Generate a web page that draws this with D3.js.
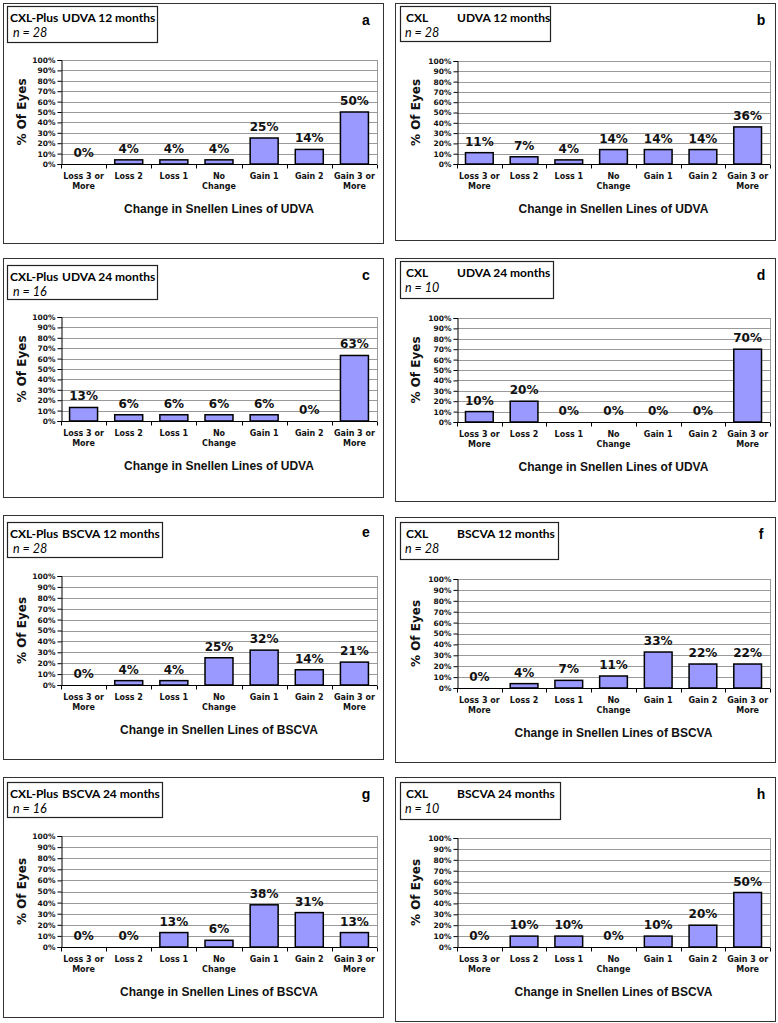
<!DOCTYPE html>
<html><head><meta charset="utf-8">
<script src="https://cdn.jsdelivr.net/npm/d3@7"></script>
<style>
html,body{margin:0;padding:0;background:#fff;}
svg{display:block;}
</style>
</head><body>
<svg id="chart" width="778" height="1023"></svg>
<script>
// ---------- data ----------
const categories = ["Loss 3 or\nMore", "Loss 2", "Loss 1", "No\nChange", "Gain 1", "Gain 2", "Gain 3 or\nMore"];
const yTicks = [0, 10, 20, 30, 40, 50, 60, 70, 80, 90, 100];

const valuesA = [0, 4, 4, 4, 25, 14, 50];
const valuesB = [11, 7, 4, 14, 14, 14, 36];
const valuesC = [13, 6, 6, 6, 6, 0, 63];
const valuesD = [10, 20, 0, 0, 0, 0, 70];
const valuesE = [0, 4, 4, 25, 32, 14, 21];
const valuesF = [0, 4, 7, 11, 33, 22, 22];
const valuesG = [0, 0, 13, 6, 38, 31, 13];
const valuesH = [0, 10, 10, 0, 10, 20, 50];

const groupNames = ["CXL-Plus", "CXL", "CXL-Plus", "CXL", "CXL-Plus", "CXL", "CXL-Plus", "CXL"];
const measureNames = ["UDVA 12 months", "UDVA 12 months", "UDVA 24 months", "UDVA 24 months",
                      "BSCVA 12 months", "BSCVA 12 months", "BSCVA 24 months", "BSCVA 24 months"];
const sampleSizes = ["n = 28", "n = 28", "n = 16", "n = 10", "n = 28", "n = 28", "n = 16", "n = 10"];
const panelLetters = ["a", "b", "c", "d", "e", "f", "g", "h"];
const xTitles = ["Change in Snellen Lines of UDVA", "Change in Snellen Lines of UDVA",
                 "Change in Snellen Lines of UDVA", "Change in Snellen Lines of UDVA",
                 "Change in Snellen Lines of BSCVA", "Change in Snellen Lines of BSCVA",
                 "Change in Snellen Lines of BSCVA", "Change in Snellen Lines of BSCVA"];
const allValues = [valuesA, valuesB, valuesC, valuesD, valuesE, valuesF, valuesG, valuesH];

// ---------- layout (pixel geometry, not data) ----------
const cols = [
  {bx: 3, bw: 380, pl: 61, pr: 377, boxL: 7, letterX: 366, yTitleX: 22, nameDx: 3, measDx: 55, nDx: 6},
  {bx: 395, bw: 380, pl: 457, pr: 770, boxL: 400, letterX: 761, yTitleX: 416, nameDx: 6, measDx: 57, nDx: 5}
];
// top, bottom, plotTop, plotBottom, boxTop, boxBottom, boxRight
const rows = [
  [3, 243, 60, 164, 6, 42, 157],
  [3, 240, 61, 164, 6, 41, 550],
  [258, 497, 317, 421, 265, 299, 157],
  [258, 501, 318, 422, 261, 298, 553],
  [515, 759, 576, 685, 522, 557, 162],
  [517, 762, 579, 688, 522, 559, 558],
  [777, 1017, 836, 947, 782, 817, 162],
  [777, 1021, 838, 947, 782, 819, 560]
];

const svg = d3.select("#chart");
const barColor = "#9999ff";
const gridColor = "#9a9a9a";
const fmt = d => d + "%";

allValues.forEach((vals, i) => {
  const c = cols[i % 2];
  const [top, bottom, pTop, pBot, boxTop, boxBot, boxR] = rows[i];
  const g = svg.append("g");

  // outer border
  g.append("rect").attr("x", c.bx + 0.5).attr("y", top + 0.5)
    .attr("width", c.bw).attr("height", bottom - top)
    .attr("fill", "#fff").attr("stroke", "#333").attr("stroke-width", 1);

  // title box
  g.append("rect").attr("x", c.boxL + 0.5).attr("y", boxTop + 0.5)
    .attr("width", boxR - c.boxL).attr("height", boxBot - boxTop)
    .attr("fill", "#fff").attr("stroke", "#222").attr("stroke-width", 1.2);
  g.append("text").attr("x", c.boxL + c.nameDx).attr("y", boxTop + 16)
    .attr("font-family", "Lato").attr("font-weight", "bold").attr("font-size", 12)
    .text(groupNames[i]);
  g.append("text").attr("x", c.boxL + c.measDx).attr("y", boxTop + 16)
    .attr("font-family", "Lato").attr("font-weight", "bold").attr("font-size", 12)
    .text(measureNames[i]);
  g.append("text").attr("x", c.boxL + c.nDx).attr("y", boxTop + 31)
    .attr("font-family", "Lato").attr("font-style", "italic").attr("font-size", 12.5)
    .text(sampleSizes[i]);

  // panel letter
  g.append("text").attr("x", c.letterX).attr("y", top + 22)
    .attr("text-anchor", "middle")
    .attr("font-family", "Liberation Sans").attr("font-weight", "bold").attr("font-size", 14)
    .text(panelLetters[i]);

  // scales
  const x = d3.scaleBand().domain(categories).range([c.pl, c.pr]).paddingInner(0.38).paddingOuter(0.19);
  const y = d3.scaleLinear().domain([0, 100]).range([pBot, pTop]);

  // gridlines
  g.append("g").selectAll("line").data(yTicks.filter(t => t > 0)).join("line")
    .attr("x1", c.pl).attr("x2", c.pr)
    .attr("y1", d => Math.round(y(d)) + 0.5).attr("y2", d => Math.round(y(d)) + 0.5)
    .attr("stroke", gridColor).attr("stroke-width", 1);
  // right border of plot
  g.append("line").attr("x1", c.pr + 0.5).attr("x2", c.pr + 0.5)
    .attr("y1", pTop).attr("y2", pBot).attr("stroke", gridColor);

  // bars
  g.append("g").selectAll("rect").data(vals).join("rect")
    .attr("x", (d, j) => x(categories[j]))
    .attr("y", d => y(d))
    .attr("width", x.bandwidth())
    .attr("height", d => y(0) - y(d))
    .attr("fill", barColor)
    .attr("stroke", d => d > 0 ? "#000" : "none")
    .attr("stroke-width", 1.5);

  // value labels
  g.append("g").selectAll("text").data(vals).join("text")
    .attr("x", (d, j) => x(categories[j]) + x.bandwidth() / 2)
    .attr("y", d => y(d) - 7)
    .attr("text-anchor", "middle")
    .attr("font-family", "DejaVu Sans").attr("font-weight", "bold").attr("font-size", 12)
    .attr("fill", "#111")
    .text(fmt);

  // y axis
  const yAxis = d3.axisLeft(y).tickValues(yTicks).tickFormat(fmt).tickSize(4).tickPadding(2);
  const ya = g.append("g").attr("transform", `translate(${c.pl + 0.5},0)`).call(yAxis);
  ya.select(".domain").attr("stroke", "#000");
  ya.selectAll(".tick line").attr("stroke", "#000");
  ya.selectAll(".tick text")
    .attr("font-family", "DejaVu Sans").attr("font-weight", "bold").attr("font-size", 7.5)
    .attr("fill", "#111");

  // x axis
  const xa = g.append("g").attr("transform", `translate(0,${Math.round(pBot) + 0.5})`);
  xa.append("line").attr("x1", c.pl).attr("x2", c.pr).attr("stroke", "#000");
  const bounds = d3.range(categories.length + 1).map(k => c.pl + k * x.step());
  xa.selectAll("line.tk").data(bounds).join("line").attr("class", "tk")
    .attr("x1", d => Math.round(d) + 0.5).attr("x2", d => Math.round(d) + 0.5)
    .attr("y1", 0).attr("y2", 4).attr("stroke", "#000");
  const cl = xa.selectAll("text.cat").data(categories).join("text").attr("class", "cat")
    .attr("text-anchor", "middle")
    .attr("font-family", "DejaVu Sans").attr("font-weight", "bold").attr("font-size", 8)
    .attr("fill", "#111");
  cl.each(function (d) {
    const t = d3.select(this);
    const cx = x(d) + x.bandwidth() / 2;
    d.split("\n").forEach((line, k) => {
      t.append("tspan").attr("x", cx).attr("y", 14 + k * 10).text(line);
    });
  });

  // axis titles
  g.append("text")
    .attr("x", (c.pl + c.pr) / 2).attr("y", pBot + 49)
    .attr("text-anchor", "middle")
    .attr("font-family", "Liberation Sans").attr("font-weight", "bold").attr("font-size", 12)
    .attr("fill", "#111")
    .text(xTitles[i]);
  g.append("text")
    .attr("transform", `translate(${c.yTitleX + 4},${(pTop + pBot) / 2}) rotate(-90)`)
    .attr("text-anchor", "middle")
    .attr("font-family", "DejaVu Sans").attr("font-weight", "bold").attr("font-size", 12)
    .attr("fill", "#111")
    .text("% Of Eyes");
});
</script>
</body></html>
